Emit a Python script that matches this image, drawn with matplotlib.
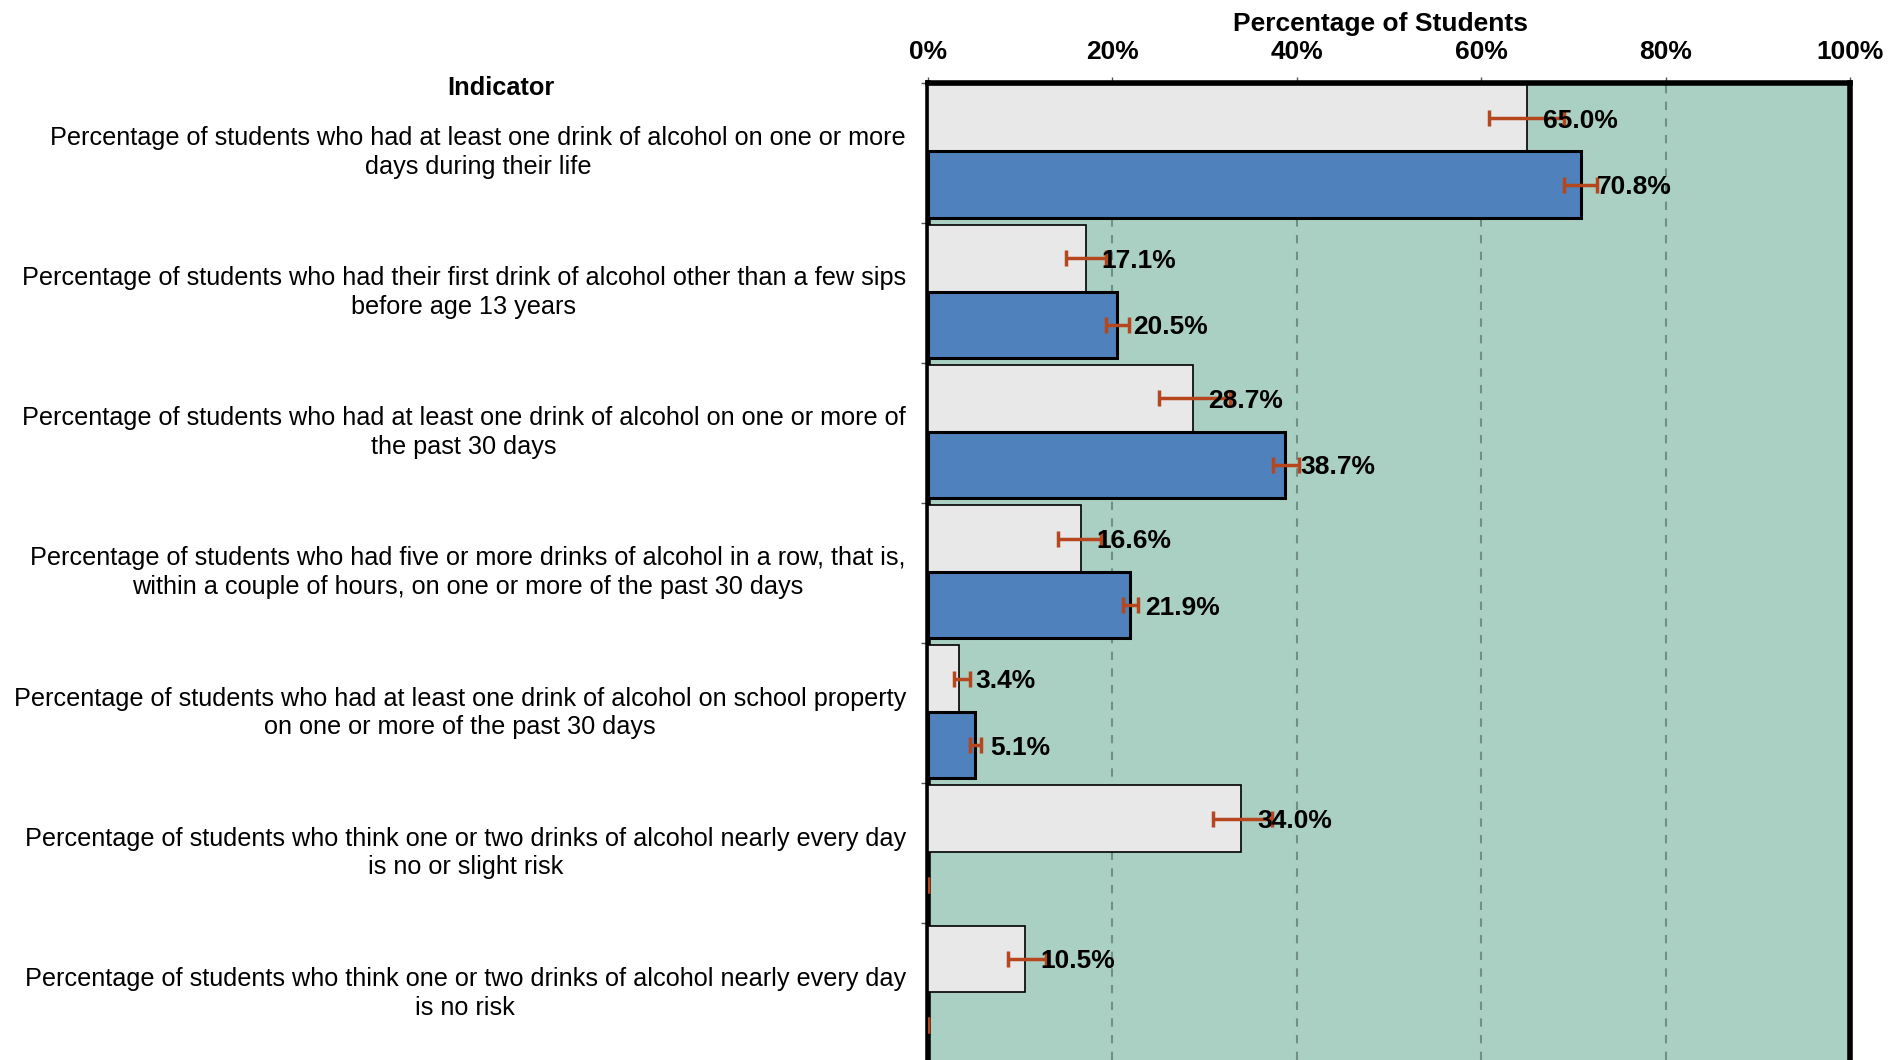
import numpy as np
import matplotlib.pyplot as plt

plt.rcParams['font.family'] = ['Liberation Sans', 'DejaVu Sans']

# indicator labels (one per group)
indicators = [
    "Percentage of students who had at least one drink of alcohol on one or more\ndays during their life",
    "Percentage of students who had their first drink of alcohol other than a few sips\nbefore age 13 years",
    "Percentage of students who had at least one drink of alcohol on one or more of\nthe past 30 days",
    "Percentage of students who had five or more drinks of alcohol in a row, that is,\nwithin a couple of hours, on one or more of the past 30 days",
    "Percentage of students who had at least one drink of alcohol on school property\non one or more of the past 30 days",
    "Percentage of students who think one or two drinks of alcohol nearly every day\nis no or slight risk",
    "Percentage of students who think one or two drinks of alcohol nearly every day\nis no risk",
]

# first series (light grey bars)
grey_vals = [65.0, 17.1, 28.7, 16.6, 3.4, 34.0, 10.5]
grey_lo = [60.9, 15.0, 25.1, 14.1, 2.8, 30.9, 8.7]
grey_hi = [69.0, 19.3, 32.8, 18.8, 4.6, 37.3, 12.8]

# second series (blue bars); last two have no data
blue_vals = [70.8, 20.5, 38.7, 21.9, 5.1, 0.0, 0.0]
blue_lo = [69.0, 19.3, 37.4, 21.2, 4.6, 0.0, 0.0]
blue_hi = [72.6, 21.8, 40.2, 22.8, 5.8, 0.0, 0.0]
blue_show = [True, True, True, True, True, False, False]

xticks = [0, 20, 40, 60, 80, 100]
xticklabels = ['0%', '20%', '40%', '60%', '80%', '100%']

grey_c = '#E8E8E8'
blue_c = '#4F81BD'
err_c = '#B5461D'
bg_c = '#AAD0C4'

fig = plt.figure(figsize=(19.02, 10.60), dpi=100)
ax = fig.add_axes([928 / 1902, 0.0, 922 / 1902, (1060 - 82.5) / 1060])
ax.set_facecolor(bg_c)

n = len(indicators)
pos = np.arange(n)
h = 0.475
y_grey = pos + 0.255
y_blue = pos + 0.73

gv = np.array(grey_vals)
bv = np.array(blue_vals)
g_err = [gv - np.array(grey_lo), np.array(grey_hi) - gv]
b_err = [bv - np.array(blue_lo), np.array(blue_hi) - bv]

ax.barh(y_grey, gv, height=h, color=grey_c, edgecolor='black', linewidth=1.2, zorder=3)
ax.barh(y_blue, bv, height=h, color=blue_c, edgecolor='black', linewidth=2.2, zorder=3)
ax.errorbar(gv, y_grey, xerr=g_err, fmt='none', ecolor=err_c, elinewidth=2.5,
            capsize=6, capthick=2.5, zorder=4)
ax.errorbar(bv, y_blue, xerr=b_err, fmt='none', ecolor=err_c, elinewidth=2.5,
            capsize=6, capthick=2.5, zorder=4)

for v, y in zip(gv, y_grey):
    ax.text(v + 1.7, y, f'{v:.1f}%', ha='left', va='center_baseline', fontsize=19,
            fontweight='bold', zorder=5)
for v, y, s in zip(bv, y_blue, blue_show):
    if s:
        ax.text(v + 1.7, y, f'{v:.1f}%', ha='left', va='center_baseline', fontsize=19,
                fontweight='bold', zorder=5)

ax.set_xlim(0, 100)
ax.set_ylim((1060 - 82.5) / 140.1, 0)

ax.xaxis.tick_top()
ax.xaxis.set_label_position('top')
ax.set_xticks(xticks)
ax.set_xticklabels(xticklabels, fontsize=19, fontweight='bold')
ax.tick_params(axis='x', length=4, width=1, color='#555555', pad=9)
ax.set_xlabel('Percentage of Students', fontsize=19, fontweight='bold', labelpad=7)
ax.xaxis.label.set_x(0.491)
ax.grid(axis='x', linestyle=(0, (4, 4)), color='#6F8F87', linewidth=1.5, zorder=1)

ax.set_yticks(pos + 0.5)
ax.set_yticklabels(indicators, fontsize=18.2, linespacing=1.25)
for t in ax.get_yticklabels():
    t.set_multialignment('center')
    t.set_verticalalignment('center')
ax.set_yticks(pos, minor=True)
ax.tick_params(axis='y', which='major', length=0, pad=16)
ax.tick_params(axis='y', which='minor', length=5, width=1, color='#555555')

for side in ['top', 'right', 'left']:
    ax.spines[side].set_linewidth(4)
    ax.spines[side].set_color('black')
ax.spines['bottom'].set_visible(False)

fig.text(501 / 1902, 1 - 88 / 1060, 'Indicator', ha='center', va='center',
         fontsize=18.3, fontweight='bold')

fig.savefig('out.png', dpi=100)
